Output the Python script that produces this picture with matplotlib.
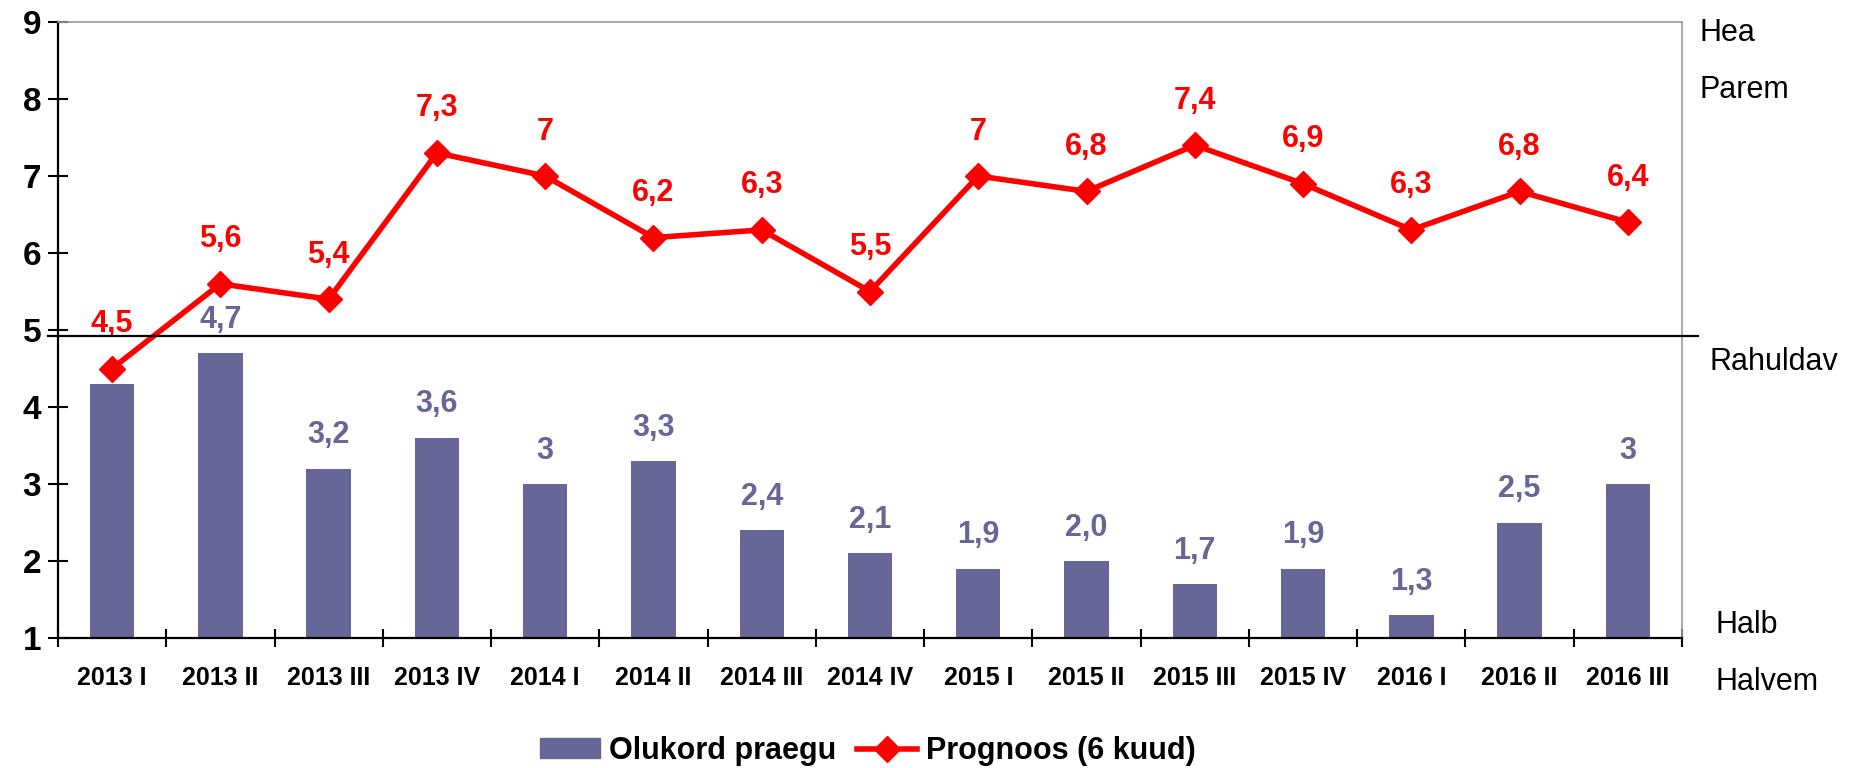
import matplotlib
matplotlib.use("Agg")
import matplotlib.pyplot as plt
from matplotlib.transforms import blended_transform_factory
from matplotlib.lines import Line2D
from matplotlib.patches import Patch
import numpy as np

categories = ["2013 I", "2013 II", "2013 III", "2013 IV", "2014 I", "2014 II",
              "2014 III", "2014 IV", "2015 I", "2015 II", "2015 III", "2015 IV",
              "2016 I", "2016 II", "2016 III"]
current = [4.3, 4.7, 3.2, 3.6, 3.0, 3.3, 2.4, 2.1, 1.9, 2.0, 1.7, 1.9, 1.3, 2.5, 3.0]
current_labels = ["", "4,7", "3,2", "3,6", "3", "3,3", "2,4", "2,1", "1,9", "2,0",
                  "1,7", "1,9", "1,3", "2,5", "3"]
forecast = [4.5, 5.6, 5.4, 7.3, 7.0, 6.2, 6.3, 5.5, 7.0, 6.8, 7.4, 6.9, 6.3, 6.8, 6.4]
forecast_labels = ["4,5", "5,6", "5,4", "7,3", "7", "6,2", "6,3", "5,5", "7", "6,8",
                   "7,4", "6,9", "6,3", "6,8", "6,4"]
yticks = [1, 2, 3, 4, 5, 6, 7, 8, 9]
right_labels = ["Hea", "Parem", "Rahuldav", "Halb", "Halvem"]
divider_value = 4.92

plt.rcParams['font.family'] = ['Liberation Sans', 'DejaVu Sans']

BAR = "#666699"
RED = "#FF0000"

W, H = 1862, 768
fig = plt.figure(figsize=(W / 100, H / 100), dpi=100)
ax = fig.add_axes([58 / W, 1 - 638 / H, (1682 - 58) / W, (638 - 22) / H])

x = np.arange(len(categories))
ax.bar(x, [v - 1 for v in current], bottom=1, width=0.41, color=BAR, zorder=2)
ax.plot(x, forecast, color=RED, lw=4, marker="D", markersize=13, zorder=4,
        clip_on=False)

for xi, v, s in zip(x, current, current_labels):
    if s:
        ax.annotate(s, (xi, v), xytext=(0, 24), textcoords="offset points",
                    ha="center", va="center", fontsize=22, fontweight="bold",
                    color=BAR, zorder=5)
for xi, v, s in zip(x, forecast, forecast_labels):
    ax.annotate(s, (xi, v), xytext=(0, 32), textcoords="offset points",
                ha="center", va="center", fontsize=22, fontweight="bold",
                color=RED, zorder=5)

ax.set_xlim(-0.5, len(categories) - 0.5)
ax.set_ylim(1, 9)
ax.set_yticks(yticks)
ax.set_yticklabels([str(t) for t in yticks], fontsize=24, fontweight="bold")
ax.set_xticks(x)
ax.set_xticklabels(categories, fontsize=18, fontweight="bold")
ax.tick_params(axis="x", which="major", length=0, pad=20)
ax.set_xticks(np.arange(-0.5, len(categories)), minor=True)
ax.tick_params(axis="x", which="minor", direction="inout", length=13, width=1.5)
ax.tick_params(axis="y", direction="inout", length=14, width=1.5, pad=5)

for side in ["left", "bottom"]:
    ax.spines[side].set_color("black")
    ax.spines[side].set_linewidth(1.6)
for side in ["top", "right"]:
    ax.spines[side].set_color("#999999")
    ax.spines[side].set_linewidth(1.2)

tr = blended_transform_factory(fig.transFigure, ax.transData)
fig.add_artist(Line2D([48 / W, 1698 / W], [divider_value, divider_value],
                      transform=tr, color="black", lw=1.6, zorder=3))

label_pos = [(1700, 33), (1700, 90), (1709, 362), (1716, 625), (1716, 682)]
for s, (px, py) in zip(right_labels, label_pos):
    fig.text(px / W, 1 - py / H, s, fontsize=22, ha="left", va="center")

handles = [Patch(facecolor=BAR, edgecolor=BAR),
           Line2D([0], [0], color=RED, lw=4, marker="D", markersize=13)]
fig.legend(handles, ["Olukord praegu", "Prognoos (6 kuud)"],
           loc="center", bbox_to_anchor=(868 / W, 1 - 751 / H), ncol=2,
           frameon=False, prop={"size": 22, "weight": "bold"},
           handlelength=1.95, handleheight=0.65, handletextpad=0.3,
           columnspacing=0.7, borderpad=0.2)

fig.savefig("out.png", dpi=100)
